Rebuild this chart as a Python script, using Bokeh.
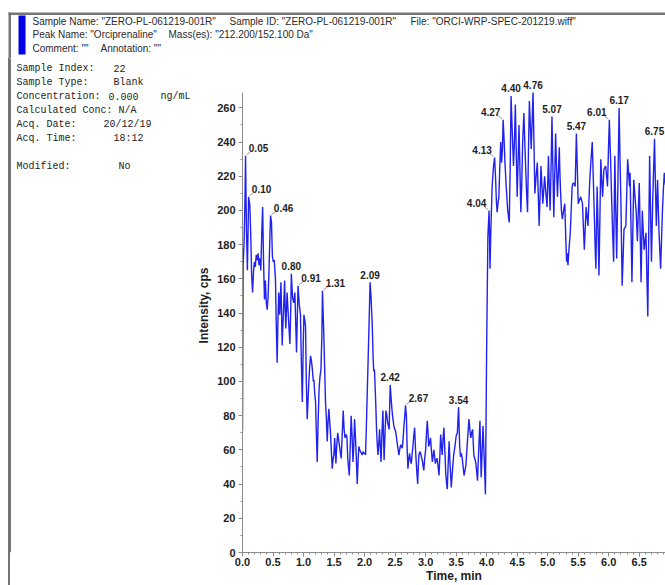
from bokeh.plotting import figure
from bokeh.layouts import column, row
from bokeh.models import (ColumnDataSource, Range1d, SingleIntervalTicker,
                          PrintfTickFormatter, LabelSet)
from bokeh.core.properties import value
from bokeh.embed import file_html
from bokeh.resources import INLINE

# ---- XIC trace: retention time (min) and intensity (cps) ----
time_min = [
    0.000, 0.010, 0.025, 0.040, 0.050, 0.065, 0.080, 0.090, 0.100, 0.120,
    0.135, 0.150, 0.165, 0.180, 0.195, 0.210, 0.225, 0.240, 0.255, 0.270,
    0.285, 0.300, 0.315, 0.330, 0.345, 0.360, 0.375, 0.390, 0.405, 0.420,
    0.435, 0.450, 0.460, 0.475, 0.490, 0.505, 0.520, 0.540, 0.555, 0.568,
    0.580, 0.594, 0.610, 0.630, 0.650, 0.670, 0.690, 0.700, 0.710, 0.730,
    0.750, 0.776, 0.790, 0.800, 0.820, 0.840, 0.858, 0.875, 0.885, 0.900,
    0.910, 0.930, 0.950, 0.965, 0.980, 0.995, 1.006, 1.020, 1.033, 1.045,
    1.060, 1.075, 1.087, 1.100, 1.115, 1.130, 1.145, 1.160, 1.170, 1.185,
    1.197, 1.210, 1.224, 1.240, 1.255, 1.270, 1.285, 1.300, 1.310, 1.330,
    1.345, 1.360, 1.375, 1.388, 1.400, 1.415, 1.430, 1.440, 1.455, 1.470,
    1.485, 1.497, 1.510, 1.530, 1.545, 1.560, 1.575, 1.590, 1.605, 1.617,
    1.635, 1.650, 1.665, 1.680, 1.695, 1.710, 1.726, 1.750, 1.765, 1.780,
    1.795, 1.810, 1.822, 1.836, 1.850, 1.865, 1.880, 1.895, 1.907, 1.920,
    1.934, 1.950, 1.962, 1.975, 1.989, 2.003, 2.016, 2.030, 2.045, 2.060,
    2.075, 2.090, 2.105, 2.125, 2.140, 2.150, 2.162, 2.175, 2.185, 2.196,
    2.210, 2.220, 2.235, 2.246, 2.260, 2.270, 2.285, 2.300, 2.310, 2.320,
    2.335, 2.350, 2.365, 2.377, 2.390, 2.402, 2.420, 2.435, 2.450, 2.465,
    2.480, 2.495, 2.508, 2.520, 2.535, 2.550, 2.562, 2.575, 2.590, 2.605,
    2.617, 2.630, 2.645, 2.657, 2.670, 2.685, 2.698, 2.710, 2.725, 2.737,
    2.750, 2.765, 2.780, 2.792, 2.805, 2.820, 2.835, 2.846, 2.860, 2.870,
    2.880, 2.890, 2.905, 2.918, 2.930, 2.945, 2.958, 2.970, 2.985, 3.000,
    3.015, 3.027, 3.040, 3.050, 3.065, 3.080, 3.095, 3.110, 3.125, 3.136,
    3.150, 3.160, 3.175, 3.190, 3.205, 3.220, 3.235, 3.246, 3.260, 3.272,
    3.285, 3.300, 3.315, 3.330, 3.345, 3.355, 3.370, 3.385, 3.400, 3.420,
    3.440, 3.460, 3.480, 3.500, 3.520, 3.540, 3.558, 3.572, 3.585, 3.600,
    3.615, 3.630, 3.645, 3.660, 3.685, 3.710, 3.725, 3.740, 3.755, 3.770,
    3.790, 3.805, 3.820, 3.835, 3.850, 3.870, 3.890, 3.900, 3.910, 3.925,
    3.940, 3.960, 3.980, 4.000, 4.020, 4.040, 4.055, 4.070, 4.090, 4.110,
    4.130, 4.145, 4.160, 4.172, 4.185, 4.200, 4.215, 4.230, 4.245, 4.258,
    4.270, 4.285, 4.300, 4.320, 4.345, 4.370, 4.385, 4.400, 4.420, 4.440,
    4.455, 4.470, 4.485, 4.500, 4.515, 4.530, 4.545, 4.560, 4.575, 4.590,
    4.610, 4.625, 4.640, 4.655, 4.670, 4.685, 4.700, 4.715, 4.730, 4.745,
    4.760, 4.775, 4.790, 4.810, 4.830, 4.845, 4.860, 4.875, 4.890, 4.905,
    4.920, 4.935, 4.950, 4.970, 4.990, 5.000, 5.012, 5.025, 5.040, 5.055,
    5.070, 5.085, 5.100, 5.115, 5.130, 5.145, 5.160, 5.175, 5.190, 5.200,
    5.212, 5.225, 5.240, 5.260, 5.280, 5.295, 5.310, 5.320, 5.332, 5.350,
    5.370, 5.385, 5.400, 5.415, 5.430, 5.450, 5.470, 5.485, 5.500, 5.520,
    5.540, 5.555, 5.570, 5.585, 5.600, 5.615, 5.630, 5.645, 5.660, 5.675,
    5.690, 5.710, 5.730, 5.750, 5.770, 5.780, 5.790, 5.800, 5.810, 5.825,
    5.840, 5.855, 5.870, 5.885, 5.900, 5.910, 5.920, 5.935, 5.950, 5.965,
    5.980, 5.995, 6.010, 6.030, 6.050, 6.065, 6.080, 6.090, 6.100, 6.115,
    6.130, 6.150, 6.170, 6.185, 6.200, 6.210, 6.220, 6.235, 6.250, 6.265,
    6.280, 6.295, 6.310, 6.325, 6.340, 6.350, 6.365, 6.380, 6.395, 6.410,
    6.430, 6.450, 6.460, 6.470, 6.485, 6.500, 6.515, 6.530, 6.540, 6.550,
    6.565, 6.580, 6.595, 6.610, 6.625, 6.640, 6.655, 6.670, 6.685, 6.700,
    6.720, 6.750, 6.765, 6.780, 6.790, 6.800, 6.810, 6.820, 6.835, 6.850,
    6.865, 6.880, 6.895, 6.910, 6.930,
]
intensity_cps = [
    72, 168, 180, 205, 232, 188, 165, 186, 208, 203,
    186, 162, 152, 164, 170, 167, 174, 171, 175, 168,
    172, 165, 186, 202, 170, 148, 159, 146, 142, 150,
    166, 186, 197, 193, 173, 170, 171, 160, 130, 111,
    135, 152, 139, 158, 121, 140, 159, 141, 131, 152,
    139, 122, 141, 163, 149, 146, 152, 130, 117, 141,
    156, 145, 139, 110, 88, 121, 139, 136, 132, 101,
    78, 90, 100, 108, 115, 112, 107, 100, 101, 92,
    88, 70, 53, 78, 96, 103, 107, 126, 153, 130,
    109, 88, 78, 65, 75, 84, 76, 71, 60, 49,
    55, 57, 67, 52, 63, 70, 66, 62, 58, 55,
    70, 83, 72, 67, 69, 68, 54, 45, 62, 80,
    68, 53, 62, 78, 68, 55, 40, 55, 62, 60,
    59, 58, 57, 59, 58, 58, 57, 75, 95, 115,
    136, 158, 150, 134, 114, 106, 107, 95, 85, 72,
    62, 57, 65, 72, 60, 53, 70, 83, 68, 54,
    70, 83, 80, 76, 74, 72, 98, 90, 83, 78,
    74, 72, 71, 68, 64, 60, 57, 60, 63, 62,
    61, 66, 74, 79, 86, 80, 60, 49, 55, 58,
    54, 52, 58, 62, 68, 73, 60, 53, 45, 40,
    50, 57, 59, 58, 56, 54, 51, 48, 55, 60,
    70, 77, 70, 62, 64, 67, 60, 53, 57, 60,
    55, 52, 54, 55, 50, 45, 58, 69, 62, 57,
    66, 73, 60, 46, 40, 37, 52, 65, 52, 38,
    48, 57, 62, 68, 70, 85, 62, 56, 58, 55,
    50, 45, 48, 51, 65, 78, 72, 67, 70, 72,
    57, 55, 53, 48, 42, 60, 77, 60, 44, 58,
    74, 55, 34, 120, 185, 200, 166, 190, 214, 225,
    231, 220, 205, 199, 204, 208, 225, 240, 228, 236,
    253, 242, 228, 214, 200, 193, 224, 267, 245, 226,
    240, 262, 235, 208, 228, 250, 225, 199, 215, 240,
    257, 240, 224, 210, 199, 235, 264, 250, 236, 252,
    269, 240, 210, 220, 228, 210, 191, 208, 226, 215,
    204, 212, 220, 210, 202, 215, 232, 215, 200, 225,
    255, 225, 196, 220, 245, 225, 208, 222, 237, 222,
    210, 200, 195, 200, 204, 185, 170, 175, 168, 178,
    187, 200, 214, 216, 216, 214, 245, 225, 204, 206,
    208, 206, 204, 190, 177, 190, 202, 196, 191, 205,
    218, 230, 240, 215, 189, 175, 166, 190, 214, 190,
    162, 195, 230, 218, 208, 216, 224, 225, 226, 220,
    214, 235, 253, 230, 204, 186, 170, 200, 232, 200,
    172, 215, 260, 230, 204, 180, 156, 172, 189, 190,
    191, 210, 230, 222, 214, 222, 190, 158, 188, 218,
    208, 199, 190, 182, 200, 216, 187, 158, 180, 200,
    188, 177, 182, 187, 162, 138, 185, 232, 200, 170,
    205, 242, 215, 191, 205, 218, 205, 191, 178, 166,
    183, 200, 212, 222, 215,
]
assert len(time_min) == len(intensity_cps)

# ---- labelled peaks (apex retention times) ----
peak_rt = [0.05, 0.10, 0.46, 0.80, 0.91, 1.31, 2.09, 2.42, 2.67, 3.54,
           4.04, 4.13, 4.27, 4.40, 4.76, 5.07, 5.47, 6.01, 6.17, 6.75]
# where each apex label sits relative to its peak
peak_side = ["right", "right", "right", "above", "right", "right", "above", "above", "right", "above",
             "left", "left", "left", "above", "above", "above", "above", "left", "above", "above"]

# ---- header / sample information ----
header_lines = [
    ["Sample Name: \"ZERO-PL-061219-001R\"", "Sample ID: \"ZERO-PL-061219-001R\"",
     "File: \"ORCI-WRP-SPEC-201219.wiff\""],
    ["Peak Name: \"Orciprenaline\"", "Mass(es): \"212.200/152.100 Da\""],
    ["Comment: \"\"", "Annotation: \"\""],
]
info_keys = ["Sample Index:", "Sample Type:", "Concentration:", "Calculated Conc:",
             "Acq. Date:", "Acq. Time:", "", "Modified:"]
info_values = ["22", "Blank", "0.000", "N/A", "20/12/19", "18:12", "", "No"]
info_units = ["", "", "ng/mL", "", "", "", "", ""]

SANS = "Liberation Sans"
MONO = "Liberation Mono"
TRACE_BLUE = "#2222ee"
AXIS_GREY = "#8c8c8c"
FRAME_GREY = "#747474"
TEXT = "#1e1e1e"

W, H = 665, 585
HEAD_H = 58                      # height of the header strip
INFO_W = 190                     # width of the sample-info column
PLOT_W, PLOT_H = W - INFO_W, H - HEAD_H
AXIS_X = 242                     # page x of the intensity axis
AXIS_TOP_Y, AXIS_TOP_CPS = 92, 269
BOTTOM_BORDER = 33
FRAME_BOTTOM_Y = H - BOTTOM_BORDER
X_END = 6.93
Y_END = AXIS_TOP_CPS * (FRAME_BOTTOM_Y - HEAD_H) / (FRAME_BOTTOM_Y - AXIS_TOP_Y)


def blank_panel(width, height, y_top, y_bottom, **kw):
    """Figure whose data coordinates are page pixels (y grows downwards)."""
    f = figure(width=width, height=height, output_backend="svg", toolbar_location=None,
               x_range=Range1d(0, width), y_range=Range1d(y_bottom, y_top),
               x_axis_type=None, y_axis_type=None, min_border=0, **kw)
    f.outline_line_color = None
    f.grid.visible = False
    return f


# ---- header strip ----
head = blank_panel(W, HEAD_H, 0, HEAD_H)
head.quad(left=[8], right=[W], top=[12], bottom=[14.5], fill_color=FRAME_GREY, line_color=None)
head.quad(left=[8], right=[10.5], top=[12], bottom=[HEAD_H], fill_color=FRAME_GREY, line_color=None)
head.quad(left=[18], right=[25], top=[15], bottom=[54], fill_color="#0000e6", line_color=None)
head_x = [[32, 229, 410], [32, 168], [32, 100]]
for parts, xs, y in zip(header_lines, head_x, [20.5, 34, 47.5]):
    head.text(x=xs, y=[y] * len(xs), text=parts, text_font=value(SANS), text_font_size="10px",
              text_color="#2a2a2a", text_baseline="middle", text_align="left")

# ---- sample-info column (frame shares the chromatogram's top/bottom borders) ----
info = blank_panel(INFO_W, PLOT_H, HEAD_H, FRAME_BOTTOM_Y, min_border_bottom=BOTTOM_BORDER)
info.border_fill_color = None
info.background_fill_color = None
info.styles = {"background": "linear-gradient(to right, #ffffff 8px, %s 8px, %s 10.5px, #ffffff 10.5px)"
                             % (FRAME_GREY, FRAME_GREY)}
info.quad(left=[8], right=[10.5], top=[HEAD_H], bottom=[FRAME_BOTTOM_Y], fill_color=FRAME_GREY,
          line_color=None)
rows_y = [68 + 14 * i for i in range(len(info_keys))]
val_x = [113, 113, 108, 118, 103, 113, 0, 118]
mono = dict(text_font=value(MONO), text_font_size="10px", text_color=TEXT,
            text_baseline="middle", text_align="left")
info.text(x=[16] * len(info_keys), y=rows_y, text=info_keys, **mono)
info.text(x=val_x, y=rows_y, text=info_values, **mono)
info.text(x=[160] * len(info_units), y=rows_y, text=info_units, **mono)

# ---- chromatogram ----
p = figure(width=PLOT_W, height=PLOT_H, x_range=Range1d(0, X_END), y_range=Range1d(0, Y_END),
           output_backend="svg", toolbar_location=None,
           min_border_left=AXIS_X - INFO_W, min_border_top=0,
           min_border_bottom=BOTTOM_BORDER, min_border_right=0)
p.outline_line_color = None
p.grid.visible = False

p.xaxis.ticker = SingleIntervalTicker(interval=0.5, num_minor_ticks=5)
p.yaxis.ticker = SingleIntervalTicker(interval=20, num_minor_ticks=2)
p.xaxis.formatter = PrintfTickFormatter(format="%.1f")
p.yaxis.bounds = (0, AXIS_TOP_CPS)
p.xaxis.axis_label = "Time, min"
p.yaxis.axis_label = "Intensity, cps"
for ax in (p.xaxis[0], p.yaxis[0]):
    ax.axis_line_color = AXIS_GREY
    ax.major_tick_line_color = AXIS_GREY
    ax.minor_tick_line_color = AXIS_GREY
    ax.major_tick_in = 0
    ax.minor_tick_in = 0
    ax.major_tick_out = 4
    ax.minor_tick_out = 2
    ax.major_label_text_font = SANS
    ax.major_label_text_font_size = "11px"
    ax.major_label_text_font_style = "bold"
    ax.major_label_text_color = TEXT
    ax.axis_label_text_font = SANS
    ax.axis_label_text_font_size = "12px"
    ax.axis_label_text_font_style = "bold"
    ax.axis_label_text_color = TEXT
p.xaxis.major_label_standoff = 1
p.xaxis.axis_label_standoff = 0
p.yaxis.major_label_standoff = 3
p.yaxis.axis_label_standoff = 3

p.line(time_min, intensity_cps, line_color=TRACE_BLUE, line_width=1.4)

# apex labels with short leader lines
apex_cps = [intensity_cps[time_min.index(round(t, 3))] for t in peak_rt]
side_dx = {"right": 13, "left": -12.5, "above": 0}
px_x = (W - AXIS_X) / X_END
px_y = (FRAME_BOTTOM_Y - HEAD_H) / Y_END
label_src = ColumnDataSource(dict(
    x=peak_rt, y=apex_cps, text=[f"{t:.2f}" for t in peak_rt],
    dx=[side_dx[s] for s in peak_side],
))
p.add_layout(LabelSet(x="x", y="y", text="text", source=label_src,
                      x_offset="dx", y_offset=7.5,
                      text_align="center", text_baseline="middle",
                      text_font=value(SANS), text_font_size="10px",
                      text_font_style="bold", text_color=TEXT))
lead_x0, lead_y0, lead_x1, lead_y1 = [], [], [], []
for t, c, s in zip(peak_rt, apex_cps, peak_side):
    if s == "above":
        continue
    sgn = 1 if s == "right" else -1
    lead_x0.append(t + sgn * 1 / px_x)
    lead_y0.append(c + 1 / px_y)
    lead_x1.append(t + sgn * 5 / px_x)
    lead_y1.append(c + 4 / px_y)
p.segment(lead_x0, lead_y0, lead_x1, lead_y1, line_color="#9a9a9a", line_width=1)

page = column(head, row(info, p, spacing=0), spacing=0)
open("out.html", "w").write(file_html(page, INLINE))
